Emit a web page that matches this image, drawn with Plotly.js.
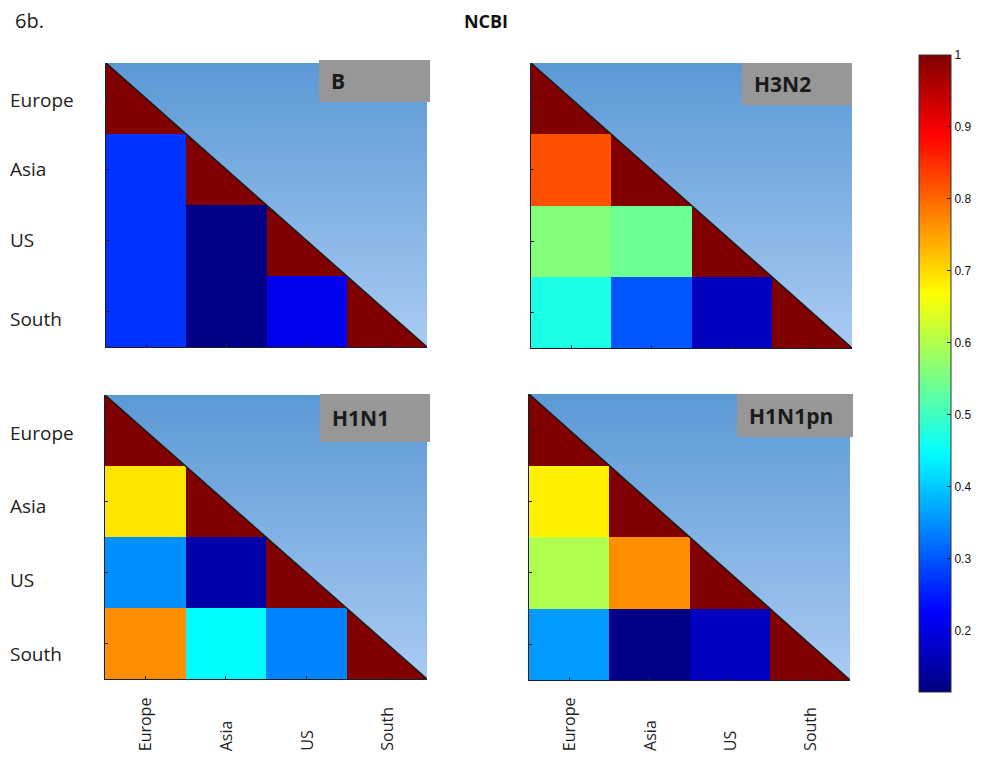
<!DOCTYPE html>
<html><head><meta charset="utf-8">
<script src="https://cdn.plot.ly/plotly-3.0.1.min.js"></script>
<style>html,body{margin:0;padding:0;background:#fff}#chart{width:981px;height:779px}</style>
</head><body><div id="chart"></div>
<script>
// ---------- data ----------
const regions = ['Europe', 'Asia', 'US', 'South'];
const panelNames = ['B', 'H3N2', 'H1N1', 'H1N1pn'];
// lower-triangle values, rows Asia / US / South, columns Europe, Asia, US
const corrB      = [[0.27], [0.27, 0.12], [0.27, 0.12, 0.21]];
const corrH3N2   = [[0.82], [0.56, 0.54], [0.47, 0.30, 0.17]];
const corrH1N1   = [[0.69], [0.35, 0.15], [0.765, 0.445, 0.34]];
const corrH1N1pn = [[0.68], [0.60, 0.765], [0.36, 0.12, 0.17]];
const diagValue = 1;
const colorTicks = [0.2, 0.3, 0.4, 0.5, 0.6, 0.7, 0.8, 0.9, 1];
const colorTickText = ['0.2', '0.3', '0.4', '0.5', '0.6', '0.7', '0.8', '0.9', '1'];
const colorMin = 0.115, colorMax = 1;

// ---------- layout helpers ----------
const W = 981, H = 779;
const px = p => p / W;
const py = p => 1 - p / H;
const panelBox = [
  {l: 106, r: 427, t: 63, b: 347},
  {l: 531, r: 852, t: 63, b: 348},
  {l: 105, r: 427, t: 395, b: 679},
  {l: 529, r: 850, t: 394, b: 680}
];
const tagBox = [
  {l: 319, r: 430, t: 60, b: 102},
  {l: 742, r: 852, t: 63, b: 105},
  {l: 320, r: 430, t: 394, b: 442},
  {l: 737, r: 853, t: 394, b: 437}
];
const yLabelNudge = [[-2, 0, 0, -7], [-2, -4, -7, -10]];

const jet = [[0, 'rgb(0,0,128)'], [0.125, 'rgb(0,0,255)'], [0.375, 'rgb(0,255,255)'],
             [0.625, 'rgb(255,255,0)'], [0.875, 'rgb(255,0,0)'], [1, 'rgb(128,0,0)']];

const series = [corrB, corrH3N2, corrH1N1, corrH1N1pn];
const n = regions.length;
const idx = regions.map((_, i) => i);
const lo = -0.5, hi = n - 0.5;

const traces = [];
const layout = {
  width: W, height: H,
  margin: {l: 0, r: 0, t: 0, b: 0},
  paper_bgcolor: '#ffffff', plot_bgcolor: '#ffffff',
  showlegend: false,
  title: {text: '<b>NCBI</b>', font: {family: 'Open Sans', size: 18, color: '#111'},
          x: px(486), xanchor: 'center', y: py(22), yanchor: 'middle', xref: 'paper', yref: 'paper'},
  coloraxis: {
    cmin: colorMin, cmax: colorMax, colorscale: jet,
    colorbar: {
      x: px(919), xanchor: 'left', y: py(373.5), yanchor: 'middle',
      len: 637, lenmode: 'pixels', thickness: 32, thicknessmode: 'pixels',
      xpad: 0, ypad: 0, outlinewidth: 1, outlinecolor: '#333',
      ticks: 'inside', ticklen: 4, tickcolor: '#222', tickwidth: 1,
      tickvals: colorTicks, ticktext: colorTickText,
      tickfont: {family: 'Liberation Sans', size: 12, color: '#111'}
    }
  },
  shapes: [],
  annotations: [
    {text: '6b.', xref: 'paper', yref: 'paper', x: px(13), y: py(21), xanchor: 'left', yanchor: 'middle',
     showarrow: false, font: {family: 'Open Sans', size: 20, color: '#222'}}
  ]
};

series.forEach((corr, k) => {
  const s = k === 0 ? '' : String(k + 1);
  const z = idx.map(i => idx.map(j => i === j ? diagValue : (j < i ? corr[i - 1][j] : null)));
  traces.push({
    type: 'heatmap', x: idx, y: idx, z: z, coloraxis: 'coloraxis',
    xaxis: 'x' + s, yaxis: 'y' + s, hoverinfo: 'skip', xgap: 0, ygap: 0
  });
  traces.push({
    type: 'scatter', mode: 'lines', x: [lo, hi, hi, lo], y: [lo, lo, hi, lo],
    fill: 'toself', line: {width: 0, color: 'rgba(0,0,0,0)'},
    fillgradient: {type: 'vertical', colorscale: [[0, '#a9cbf2'], [1, '#5b99d6']], start: hi, stop: lo},
    xaxis: 'x' + s, yaxis: 'y' + s, hoverinfo: 'skip'
  });
  traces.push({
    type: 'scatter', mode: 'lines', x: [lo, hi], y: [lo, hi],
    line: {width: 1.5, color: '#1a1a1a'}, xaxis: 'x' + s, yaxis: 'y' + s, hoverinfo: 'skip'
  });
  const b = panelBox[k];
  const axCommon = {showgrid: false, zeroline: false, showticklabels: false, ticks: 'inside', ticklen: 3,
                    tickcolor: '#222', tickvals: idx, showline: true, linecolor: '#1c1c2a', linewidth: 1, fixedrange: true};
  layout['xaxis' + s] = Object.assign({}, axCommon, {domain: [px(b.l), px(b.r)], range: [lo, hi], anchor: 'y' + s});
  layout['yaxis' + s] = Object.assign({}, axCommon, {domain: [py(b.b), py(b.t)], range: [hi, lo], anchor: 'x' + s});

  const g = tagBox[k];
  layout.shapes.push({type: 'rect', xref: 'paper', yref: 'paper', x0: px(g.l), x1: px(g.r), y0: py(g.b), y1: py(g.t),
                      fillcolor: '#979797', line: {width: 0}, layer: 'above'});
  layout.annotations.push({text: '<b>' + panelNames[k] + '</b>', xref: 'paper', yref: 'paper',
                           x: px(g.l + 10), y: py((g.t + g.b) / 2), xanchor: 'left', yanchor: 'middle',
                           showarrow: false, font: {family: 'Open Sans', size: 21, color: '#1a1a1a'}});

  if (k % 2 === 0) {
    regions.forEach((r, i) => {
      layout.annotations.push({text: r, xref: 'paper', yref: 'y' + s, x: px(8), y: i,
                               xanchor: 'left', yanchor: 'middle', yshift: yLabelNudge[k / 2][i],
                               showarrow: false, font: {family: 'Open Sans', size: 19, color: '#222'}});
    });
  }
  if (k >= 2) {
    regions.forEach((r, i) => {
      layout.annotations.push({text: r, xref: 'x' + s, yref: 'y' + s + ' domain', x: i, y: 0,
                               xanchor: 'center', yanchor: 'bottom', yshift: -(753 - b.b), textangle: -90,
                               showarrow: false, font: {family: 'Open Sans', size: 16, color: '#222'}});
    });
  }
});

Plotly.newPlot('chart', traces, layout, {displayModeBar: false, staticPlot: true});
</script>
</body></html>
